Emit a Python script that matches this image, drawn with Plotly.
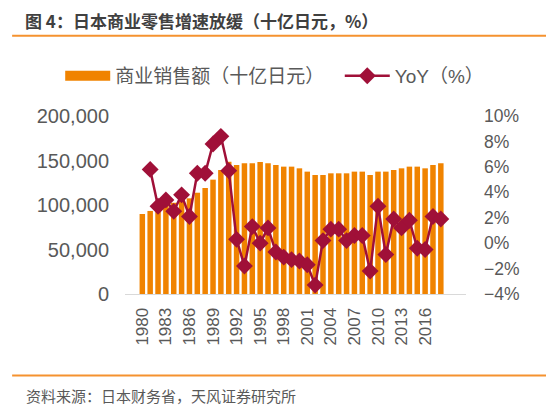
import plotly.graph_objects as go

# 年份与数据
years = [str(y) for y in range(1980, 2019)]
sales = [89900, 93300, 97000, 100500, 102500, 104500, 107500, 113800, 119100, 128500,
         139300, 148700, 145000, 146800, 146800, 148300, 146800, 145000, 143100, 143100,
         141200, 137500, 133700, 133700, 135600, 135600, 135600, 137500, 137500, 133700,
         137500, 137500, 139300, 141200, 143100, 143100, 141200, 145000, 146800]
yoy_years = years[1:]
yoy = [5.8, 2.9, 3.4, 2.5, 3.8, 2.1, 5.5, 5.5, 7.8, 8.4,
       5.7, 0.3, -1.8, 1.3, 0.0, 1.2, -0.7, -1.1, -1.3, -1.4,
       -1.7, -3.3, 0.2, 1.1, 1.1, 0.2, 0.6, 0.6, -2.2, 2.9,
       -0.9, 1.9, 1.2, 1.8, -0.4, -0.5, 2.1, 1.9]
tick_years = years[::3]

font_main = "Arial, Liberation Sans, Noto Sans CJK SC"
gray = "#595959"
orange = "#F08300"
red = "#A01038"

fig = go.Figure()

# 图例用：宽条形色块（名称后加两个不换行空格拉开间距）
fig.add_trace(go.Scatter(x=[None], y=[None], mode="lines",
                         name="商业销售额（十亿日元）\u00a0\u00a0",
                         line=dict(color=orange, width=10), hoverinfo="skip"))

# 商业销售额柱状图
fig.add_trace(go.Bar(x=years, y=sales, name="商业销售额（十亿日元）", showlegend=False,
                     marker=dict(color=orange, line=dict(width=0))))

# 同比增速折线
fig.add_trace(go.Scatter(x=yoy_years, y=yoy, name="YoY（%）", yaxis="y2",
                         mode="lines+markers",
                         line=dict(color=red, width=2.5),
                         marker=dict(symbol="diamond", size=13, color=red)))

# 页面 body 有 8px 边距，这里整体缩小 8px 以对齐
fig.update_layout(
    width=546, height=397,
    margin=dict(l=117, r=88, t=108, b=111, autoexpand=False),
    plot_bgcolor="white", paper_bgcolor="white",
    font=dict(family=font_main, color=gray, size=16),
    bargap=0.3,
    showlegend=True,
    legend=dict(orientation="h", x=-0.19, y=1.225, xanchor="left", yanchor="middle",
                font=dict(size=19, color=gray), itemwidth=45, traceorder="normal",
                bgcolor="rgba(0,0,0,0)"),
    xaxis=dict(type="category", tickvals=tick_years, ticktext=tick_years,
               tickangle=-90, tickfont=dict(size=17, color=gray),
               showline=True, linecolor="#D9D9D9", linewidth=1,
               showgrid=False, ticks="", automargin=False, ticklabelstandoff=6),
    yaxis=dict(range=[0, 200000], dtick=50000, tickformat=",",
               tickfont=dict(size=20, color=gray), showgrid=False,
               zeroline=False, ticks="", ticklabelstandoff=15, automargin=False),
    yaxis2=dict(range=[-4, 10], dtick=2, ticksuffix="%", overlaying="y", side="right",
                tickfont=dict(size=17.5, color=gray), showgrid=False, zeroline=False,
                ticks="", ticklabelstandoff=17, automargin=False),
)

# 标题、来源与橙色分隔线
fig.add_annotation(text="<b>图 4：日本商业零售增速放缓（十亿日元，%）</b>",
                   xref="paper", yref="paper", x=-0.296, y=1.539,
                   xanchor="left", yanchor="middle", showarrow=False, borderpad=0,
                   font=dict(size=17, color="#404040", family="Noto Sans CJK SC"))
fig.add_annotation(text="资料来源：日本财务省，天风证券研究所",
                   xref="paper", yref="paper", x=-0.296, y=-0.571,
                   xanchor="left", yanchor="middle", showarrow=False,
                   font=dict(size=15, color=gray, family="Noto Sans CJK SC"))
fig.add_shape(type="line", xref="paper", yref="paper", x0=-0.331, x1=1.235,
              y0=1.451, y1=1.451, line=dict(color="#F5922F", width=2))
fig.add_shape(type="line", xref="paper", yref="paper", x0=-0.331, x1=1.235,
              y0=-0.458, y1=-0.458, line=dict(color="#F5922F", width=2))

fig.write_html("out.html")
